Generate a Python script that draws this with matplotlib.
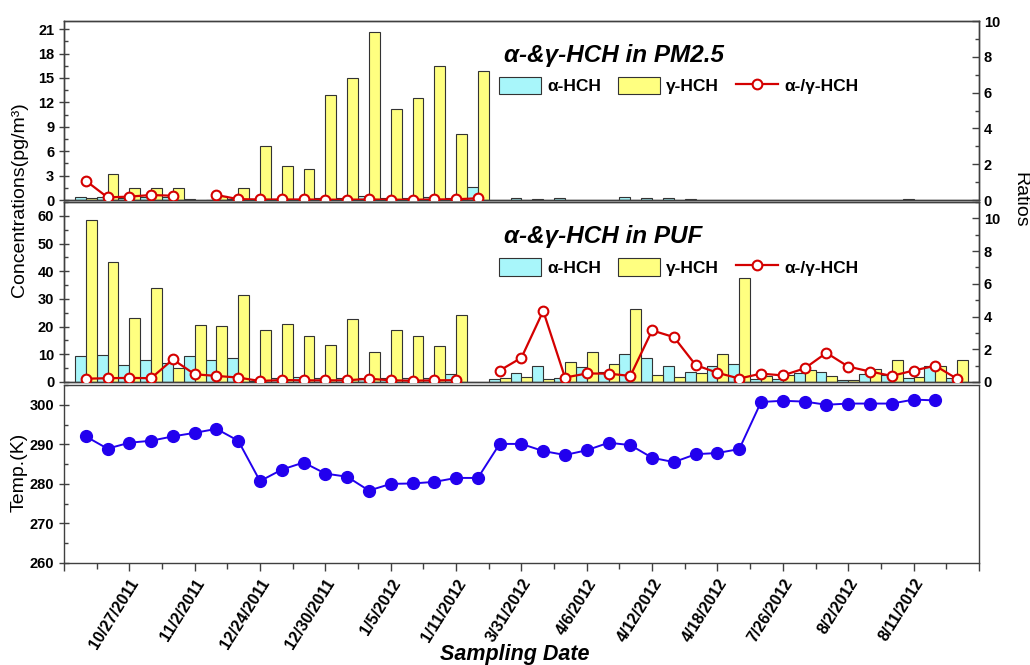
import numpy as np
import matplotlib
matplotlib.use('Agg')
import matplotlib.pyplot as plt
from matplotlib.patches import Patch
from matplotlib.lines import Line2D
from matplotlib.ticker import MultipleLocator

plt.rcParams['font.family'] = ['Liberation Sans', 'DejaVu Sans']

# sample positions 1..41 on a categorical axis
pos = np.arange(1, 42)
date_ticks = [3, 6, 9, 12, 15, 18, 21, 24, 27, 30, 33, 36, 39]
date_labels = ['10/27/2011', '11/2/2011', '12/24/2011', '12/30/2011', '1/5/2012',
               '1/11/2012', '3/31/2012', '4/6/2012', '4/12/2012', '4/18/2012',
               '7/26/2012', '8/2/2012', '8/11/2012']

# PM2.5 (pg/m3)
pm_alpha = [0.33, 0.4, 0.3, 0.4, 0.35, 0.12, 0.05, 0.1, 0.15, 0.1, 0.1, 0.2, 0.2, 0.5,
            0.2, 0.2, 0.35, 0.3, 1.64, None, 0.3, 0.1, 0.2, None, None, 0.35, 0.25, 0.25,
            0.15, None, None, None, None, None, None, None, None, None, 0.1, None, None]
pm_gamma = [0.25, 3.16, 1.44, 1.48, 1.44, None, 0.45, 1.5, 6.66, 4.15, 3.78, 12.86, 15.04,
            20.67, 11.22, 12.54, 16.44, 8.1, 15.82] + [None] * 22
pm_ratio = [1.08, 0.15, 0.19, 0.28, 0.24, None, 0.28, 0.05, 0.03, 0.03, 0.03, 0.02, 0.02,
            0.03, 0.02, 0.02, 0.03, 0.04, 0.1] + [None] * 22

# PUF (pg/m3)
puf_alpha = [9.2, 9.7, 6.3, 7.8, 7.0, 9.3, 8.1, 8.8, 0.5, 1.6, 1.9, 1.6, 1.6, 1.5, 1.6, 1.3,
             1.3, 2.7, None, 1.1, 3.2, 5.6, 1.6, 5.3, 3.6, 10.2, 8.6, 5.6, 3.6, 5.9, 6.4,
             1.1, 1.1, 3.3, 3.6, 0.65, 2.8, 2.4, 1.5, 5.7, 1.6]
puf_gamma = [58.5, 43.5, 23.2, 33.9, 5.0, 20.5, 20.2, 31.5, 18.8, 21.1, 16.6, 13.5, 22.7,
             10.8, 18.7, 16.7, 13.0, 24.1, None, 1.6, 1.9, 1.0, 7.2, 10.7, 6.4, 26.4, 2.5,
             1.9, 3.4, 10.2, 37.7, 2.1, 2.5, 4.4, 2.0, 0.7, 4.6, 7.9, 1.8, 5.7, 8.0]
puf_ratio = [0.2, 0.23, 0.25, 0.23, 1.38, 0.47, 0.37, 0.27, 0.06, 0.12, 0.1, 0.1, 0.1, 0.2,
             0.1, 0.08, 0.1, 0.11, None, 0.7, 1.48, 4.34, 0.27, 0.52, 0.51, 0.37, 3.15,
             2.74, 1.03, 0.56, 0.21, 0.51, 0.4, 0.83, 1.78, 0.94, 0.64, 0.37, 0.7, 0.99, 0.19]

# temperature (K)
temp = [292.0, 288.9, 290.4, 290.9, 292.0, 292.9, 293.9, 290.9, 280.7, 283.6, 285.4, 282.6,
        281.8, 278.3, 280.0, 280.1, 280.5, 281.5, 281.5, 290.1, 290.1, 288.3, 287.3, 288.5,
        290.4, 289.8, 286.6, 285.5, 287.5, 287.8, 288.8, 300.7, 301.0, 300.8, 300.0, 300.3,
        300.3, 300.3, 301.3, 301.1, None]

c_alpha = '#a8f6fa'
c_gamma = '#ffff80'
c_edge = '#333333'
c_red = '#d40000'
c_blue = '#2200ee'
frame = '#404040'

fig = plt.figure(figsize=(10.3, 6.65), dpi=100)
ax1 = fig.add_axes([0.0621, 0.6992, 0.8883, 0.2692])
ax2 = fig.add_axes([0.0621, 0.4256, 0.8883, 0.2707])
ax3 = fig.add_axes([0.0621, 0.1534, 0.8883, 0.2677])


def style(ax):
    for s in ax.spines.values():
        s.set_color(frame)
        s.set_linewidth(1.0)
    ax.set_xlim(0, 42)


def bold_labels(labels):
    for t in labels:
        t.set_fontsize(10.5)
        t.set_fontweight('bold')


def panel(ax, a, g, r, lim, major, minor, rlim, title):
    a = np.array(a, dtype=float)
    g = np.array(g, dtype=float)
    r = np.array(r, dtype=float)
    ax.bar(pos - 0.25, a, width=0.5, color=c_alpha, edgecolor=c_edge, linewidth=0.8, zorder=2)
    ax.bar(pos + 0.25, g, width=0.5, color=c_gamma, edgecolor=c_edge, linewidth=0.8, zorder=2)
    style(ax)
    ax.set_ylim(0, lim)
    ax.yaxis.set_major_locator(MultipleLocator(major))
    ax.yaxis.set_minor_locator(MultipleLocator(minor))
    ax.set_xticks([])
    ax.tick_params(axis='y', which='major', direction='inout', length=7, width=1, color=frame)
    ax.tick_params(axis='y', which='minor', direction='in', length=3, width=1, color=frame)
    bold_labels(ax.get_yticklabels())
    axr = ax.twinx()
    axr.plot(pos, r, color=c_red, lw=1.6, marker='o', ms=7, mfc='white', mec=c_red,
             mew=1.5, zorder=3)
    axr.set_ylim(0, rlim)
    axr.set_xlim(0, 42)
    axr.yaxis.set_major_locator(MultipleLocator(2))
    axr.yaxis.set_minor_locator(MultipleLocator(1))
    axr.tick_params(axis='y', which='major', direction='in', length=5, width=1, color=frame)
    axr.tick_params(axis='y', which='minor', direction='in', length=3, width=1, color=frame)
    bold_labels(axr.get_yticklabels())
    for s in axr.spines.values():
        s.set_color(frame)
        s.set_linewidth(1.0)
    ax.text(0.481, 0.81, title, transform=ax.transAxes, fontsize=17.5, fontweight='bold',
            style='italic', va='center', ha='left')
    handles = [Patch(facecolor=c_alpha, edgecolor=c_edge, linewidth=0.8),
               Patch(facecolor=c_gamma, edgecolor=c_edge, linewidth=0.8),
               Line2D([], [], color=c_red, lw=1.6, marker='o', ms=7, mfc='white', mec=c_red,
                      mew=1.5)]
    axr.legend(handles, ['α-HCH', 'γ-HCH', 'α-/γ-HCH'], ncol=3, loc='upper left',
               bbox_to_anchor=(0.476, 0.69), frameon=False, borderpad=0,
               borderaxespad=0, prop=dict(size=12.5, weight='bold'), handlelength=2.4,
               handleheight=1.2, handletextpad=0.35, columnspacing=1.0)
    return axr


panel(ax1, pm_alpha, pm_gamma, pm_ratio, 22, 3, 1.5, 10, 'α-&γ-HCH in PM2.5')
panel(ax2, puf_alpha, puf_gamma, puf_ratio, 65, 10, 5, 11, 'α-&γ-HCH in PUF')

ax3.plot(pos, np.array(temp, dtype=float), color=c_blue, lw=1.4, marker='o', ms=8.5,
         mfc=c_blue, mec=c_blue)
style(ax3)
ax3.set_ylim(260, 305)
ax3.yaxis.set_major_locator(MultipleLocator(10))
ax3.yaxis.set_minor_locator(MultipleLocator(5))
ax3.set_xticks(np.arange(0, 43, 3))
ax3.set_xticks(np.arange(1.5, 42, 3), minor=True)
ax3.set_xticklabels(['' if i not in date_ticks else date_labels[date_ticks.index(i)]
                     for i in range(0, 43, 3)], rotation=58, ha='right', va='top',
                    rotation_mode='anchor', fontsize=11.5, fontweight='bold')
ax3.tick_params(axis='x', which='major', direction='out', length=6, width=1, color=frame)
ax3.tick_params(axis='x', which='minor', direction='out', length=4, width=1, color=frame)
ax3.tick_params(axis='y', which='major', direction='inout', length=7, width=1, color=frame)
ax3.tick_params(axis='y', which='minor', direction='in', length=3, width=1, color=frame)
bold_labels(ax3.get_yticklabels())

fig.text(0.019, 0.70, 'Concentrations(pg/m³)', rotation=90, fontsize=14, va='center',
         ha='center')
fig.text(0.019, 0.29, 'Temp.(K)', rotation=90, fontsize=14, va='center', ha='center')
fig.text(0.99, 0.70, 'Ratios', rotation=270, fontsize=14, va='center', ha='center')
fig.text(0.5, 0.016, 'Sampling Date', fontsize=15.5, fontweight='bold', style='italic',
         ha='center', va='center')

fig.savefig('out.png', dpi=100)
